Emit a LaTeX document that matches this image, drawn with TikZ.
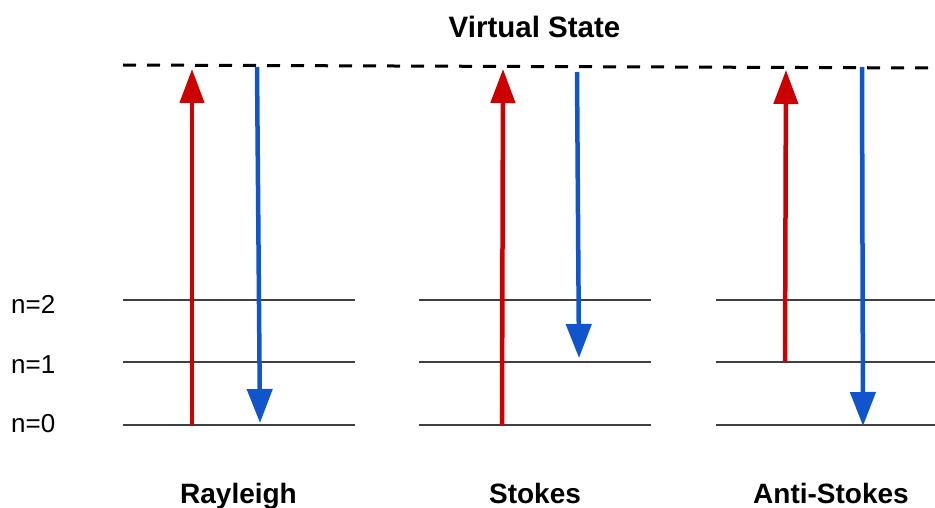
\documentclass[tikz,border=0pt]{standalone}
\usepackage{fontspec}
\setmainfont{Liberation Sans}
\usetikzlibrary{arrows.meta}
\definecolor{upred}{HTML}{CC0000}
\definecolor{downblue}{HTML}{1155CC}
\definecolor{levelgray}{HTML}{404040}
\begin{document}
\begin{tikzpicture}[x=1pt,y=-1pt,
  level/.style={draw=levelgray,line width=2pt},
  virtual/.style={draw=black,line width=3pt,dash pattern=on 13pt off 11pt},
  absorb/.style={draw=upred,line width=4.5pt,-{Triangle[width=24pt,length=34pt]}},
  emit/.style={draw=downblue,line width=4.5pt,-{Triangle[width=25pt,length=34pt]}},
  title/.style={inner sep=0pt,anchor=base,font=\bfseries\fontsize{28}{30}\selectfont},
  nlabel/.style={inner sep=0pt,anchor=base west,font=\fontsize{26}{28}\selectfont}]
\useasboundingbox (0,0) rectangle (935,508);

% virtual state
\coordinate (vsL) at (123,65);
\coordinate (vsR) at (935,68);
\draw[virtual] (vsL) -- (vsR);
\node[title,font=\bfseries\fontsize{29.5}{31}\selectfont] (vtitle) at (534.5,38) {Virtual State};

% energy levels, three panels
\foreach \xa/\xb/\p in {123/355/a,419/651/b,716/935/c}{
  \coordinate (\p0L) at (\xa,425); \coordinate (\p0R) at (\xb,425);
  \coordinate (\p1L) at (\xa,362); \coordinate (\p1R) at (\xb,362);
  \coordinate (\p2L) at (\xa,300); \coordinate (\p2R) at (\xb,300);
  \draw[level] (\p0L) -- (\p0R);
  \draw[level] (\p1L) -- (\p1R);
  \draw[level] (\p2L) -- (\p2R);
}

\node[nlabel] (n2) at (11,313) {n=2};
\node[nlabel] (n1) at (11,373) {n=1};
\node[nlabel] (n0) at (11,432) {n=0};

% Rayleigh
\coordinate (rUp0) at (192,425);  \coordinate (rUp1) at (192,69);
\coordinate (rDn0) at (257,67);   \coordinate (rDn1) at (260,423);
\draw[absorb] (rUp0) -- (rUp1);
\draw[emit] (rDn0) -- (rDn1);

% Stokes
\coordinate (sUp0) at (502,425);  \coordinate (sUp1) at (503,69);
\coordinate (sDn0) at (577,72);   \coordinate (sDn1) at (579,358);
\draw[absorb] (sUp0) -- (sUp1);
\draw[emit] (sDn0) -- (sDn1);

% Anti-Stokes
\coordinate (aUp0) at (785,362);  \coordinate (aUp1) at (786,70);
\coordinate (aDn0) at (862,67);   \coordinate (aDn1) at (863,426);
\draw[absorb] (aUp0) -- (aUp1);
\draw[emit] (aDn0) -- (aDn1);

\node[title] (tR) at (238.5,503) {Rayleigh};
\node[title] (tS) at (535,503) {Stokes};
\node[title] (tA) at (831,503) {Anti-Stokes};
\end{tikzpicture}
\end{document}
